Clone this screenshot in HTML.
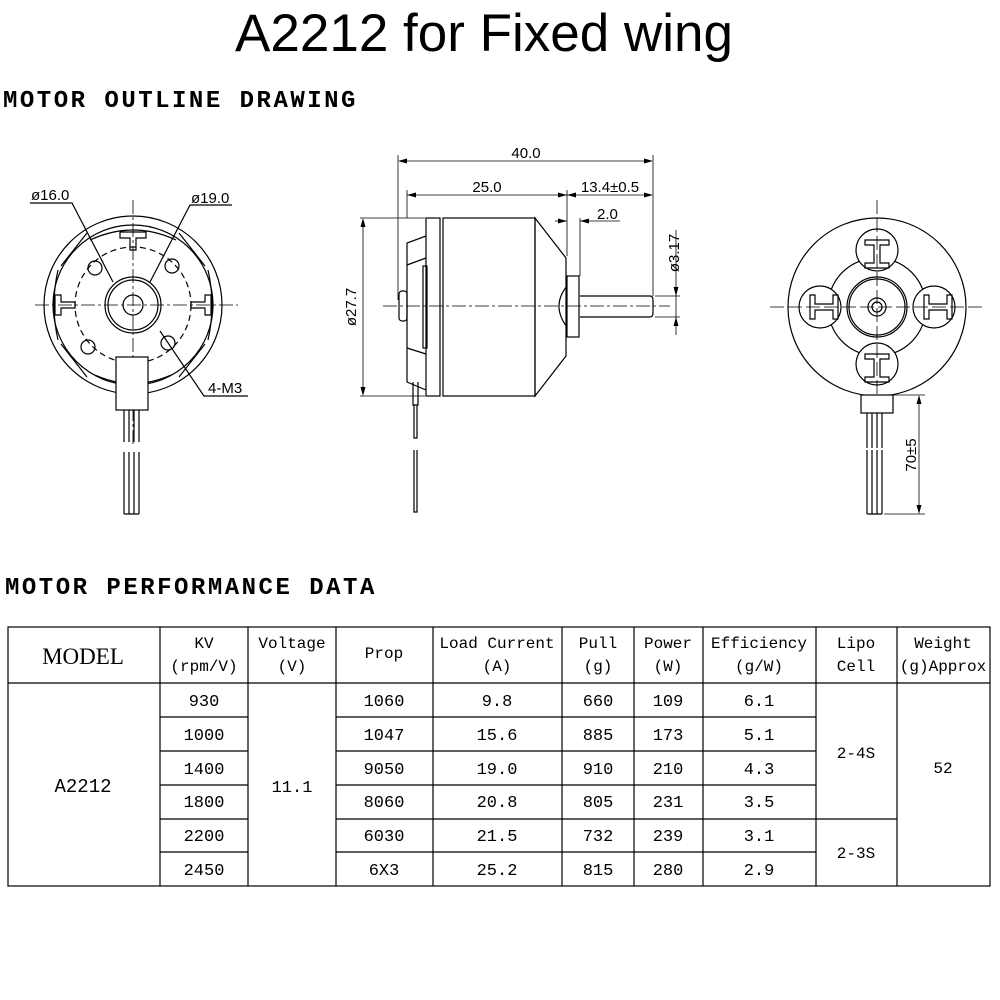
<!DOCTYPE html>
<html><head><meta charset="utf-8"><style>
body{margin:0;background:#fff}
svg{display:block}
.m{font-family:"Liberation Mono",monospace}
.s{font-family:"Liberation Sans",sans-serif}
</style></head><body>
<svg width="1000" height="1000" viewBox="0 0 1000 1000" xmlns="http://www.w3.org/2000/svg">
<rect width="1000" height="1000" fill="#fff"/>
<text x="484" y="51" class="s" font-size="53" text-anchor="middle">A2212 for Fixed wing</text>
<text x="3" y="107" class="m" font-size="24" font-weight="bold" letter-spacing="2.5">MOTOR OUTLINE DRAWING</text>
<text x="5" y="594" class="m" font-size="24" font-weight="bold" letter-spacing="2.5">MOTOR PERFORMANCE DATA</text>

<g fill="none" stroke="#000" stroke-width="1.2">
<!-- LEFT VIEW -->
<circle cx="133" cy="305" r="89"/>
<circle cx="133" cy="305" r="80"/>
<circle cx="133" cy="305" r="58" stroke-dasharray="6 4"/>
<circle cx="133" cy="305" r="28"/>
<circle cx="133" cy="305" r="25"/>
<circle cx="133" cy="305" r="10"/>
<circle cx="95" cy="268" r="7"/><circle cx="172" cy="266" r="7"/>
<circle cx="88" cy="347" r="7"/><circle cx="168" cy="343" r="7"/>
<line x1="133" y1="200" x2="133" y2="445" stroke-dasharray="14 3 3 3" stroke-width="0.8"/>
<line x1="35" y1="305" x2="238" y2="305" stroke-dasharray="14 3 3 3" stroke-width="0.8"/>
<path d="M90 240 Q133 220 176 240 M58 270 Q50 305 58 340 M208 270 Q216 305 208 340 M95 375 Q133 392 171 375"/>
<path d="M120 232 h26 v6 h-10 v12 h-6 v-12 h-10z M55 295 v20 h6 v-7 h14 v-6 h-14 v-7z M211 295 v20 h-6 v-7 h-14 v-6 h14 v-7z"/>
<line x1="87" y1="233" x2="61" y2="266"/><line x1="179" y1="233" x2="205" y2="266"/>
<line x1="61" y1="344" x2="87" y2="377"/><line x1="205" y1="344" x2="179" y2="377"/>
<rect x="116" y="357" width="32" height="53" fill="#fff"/>
<path d="M124 410 v32 M129 410 v32 M134 410 v32 M139 410 v32 M124 452 v62 M129 452 v62 M134 452 v62 M139 452 v62 M124 514 h15"/>
<polyline points="30,203 72,203 113,282"/>
<polyline points="232,205 190,205 150,282"/>
<polyline points="248,396 204,396 160,331"/>
<!-- MIDDLE VIEW -->
<line x1="398" y1="155" x2="398" y2="300" stroke-width="0.8"/>
<line x1="653" y1="155" x2="653" y2="296" stroke-width="0.8"/>
<line x1="402" y1="161" x2="650" y2="161" stroke-width="0.8"/>
<line x1="407" y1="195" x2="567" y2="195" stroke-width="0.8"/>
<line x1="567" y1="195" x2="650" y2="195" stroke-width="0.8"/>
<line x1="407" y1="190" x2="407" y2="218" stroke-width="0.8"/>
<line x1="567" y1="190" x2="567" y2="256" stroke-width="0.8"/>
<line x1="580" y1="218" x2="580" y2="276" stroke-width="0.8"/>
<line x1="555" y1="221" x2="567" y2="221" stroke-width="0.8"/><line x1="580" y1="221" x2="620" y2="221" stroke-width="0.8"/>
<line x1="360" y1="218" x2="425" y2="218" stroke-width="0.8"/>
<line x1="360" y1="396" x2="425" y2="396" stroke-width="0.8"/>
<line x1="363" y1="220" x2="363" y2="394" stroke-width="0.8"/>
<line x1="655" y1="296" x2="680" y2="296" stroke-width="0.8"/>
<line x1="655" y1="317" x2="680" y2="317" stroke-width="0.8"/>
<line x1="676" y1="230" x2="676" y2="335" stroke-width="0.8"/>
<rect x="426" y="218" width="14" height="178"/>
<rect x="443" y="218" width="92" height="178"/>
<path d="M535 218 L566 258 L566 356 L535 396 Z"/>
<rect x="567" y="276" width="12" height="61"/>
<path d="M567 286 Q551 306 567 327"/>
<path d="M580 296 H650 Q653 296 653 300 V313 Q653 317 650 317 H580"/>
<path d="M426 236 L407 243 V382 L426 390 M407 265 L426 258 M407 348 L426 354"/>
<rect x="423" y="266" width="4" height="82"/>
<rect x="399" y="291" width="8" height="30" rx="3"/>
<path d="M413 382 v23 h5 v-23 M414 405 v33 h3 v-33 M414 450 v62 h3 v-62"/>
<line x1="383" y1="306" x2="670" y2="306" stroke-dasharray="14 3 3 3" stroke-width="0.8"/>
<!-- RIGHT VIEW -->
<circle cx="877" cy="307" r="89"/>
<circle cx="877" cy="307" r="49"/>
<circle cx="877" cy="307" r="30"/>
<circle cx="877" cy="307" r="28"/>
<circle cx="877" cy="307" r="9"/><circle cx="877" cy="307" r="5"/>
<g fill="#fff">
<circle cx="877" cy="250" r="21"/><circle cx="877" cy="364" r="21"/>
<circle cx="820" cy="307" r="21"/><circle cx="934" cy="307" r="21"/>
</g>
<path d="M865 240 h24 v5 h-9 v18 h9 v5 h-24 v-5 h9 v-18 h-9z"/>
<path d="M865 354 h24 v5 h-9 v18 h9 v5 h-24 v-5 h9 v-18 h-9z"/>
<path d="M810 295 v24 h5 v-9 h18 v9 h5 v-24 h-5 v9 h-18 v-9z"/>
<path d="M924 295 v24 h5 v-9 h18 v9 h5 v-24 h-5 v9 h-18 v-9z"/>
<line x1="877" y1="200" x2="877" y2="420" stroke-dasharray="14 4" stroke-width="0.8"/>
<line x1="770" y1="307" x2="985" y2="307" stroke-dasharray="14 4" stroke-width="0.8"/>
<rect x="861" y="395" width="32" height="18" fill="#fff"/>
<path d="M867 413 v35 M872 413 v35 M877 413 v35 M882 413 v35 M867 450 v64 M872 450 v64 M877 450 v64 M882 450 v64 M867 514 h15"/>
<line x1="893" y1="395" x2="925" y2="395" stroke-width="0.8"/>
<line x1="884" y1="514" x2="925" y2="514" stroke-width="0.8"/>
<line x1="919" y1="397" x2="919" y2="512" stroke-width="0.8"/>
</g>
<g fill="#000">
<path d="M398 161 l9 -2.5 v5z M653 161 l-9 -2.5 v5z M407 195 l9 -2.5 v5z M567 195 l-9 -2.5 v5z M567 195 l9 -2.5 v5z M653 195 l-9 -2.5 v5z"/>
<path d="M567 221 l-9 -2.5 v5z M580 221 l9 -2.5 v5z M363 218 l-2.5 9 h5z M363 396 l-2.5 -9 h5z"/>
<path d="M676 296 l-2.5 -9 h5z M676 317 l-2.5 9 h5z M919 395 l-2.5 9 h5z M919 514 l-2.5 -9 h5z"/>
</g>
<g class="s" font-size="15" fill="#000">
<text x="31" y="200">ø16.0</text>
<text x="191" y="203">ø19.0</text>
<text x="208" y="393">4-M3</text>
<text x="526" y="158" text-anchor="middle">40.0</text>
<text x="487" y="192" text-anchor="middle">25.0</text>
<text x="610" y="192" text-anchor="middle">13.4±0.5</text>
<text x="597" y="219">2.0</text>
<text transform="translate(356 307) rotate(-90)" text-anchor="middle">ø27.7</text>
<text transform="translate(679 253) rotate(-90)" text-anchor="middle">ø3.17</text>
<text transform="translate(916 455) rotate(-90)" text-anchor="middle">70±5</text>
</g>

<!-- TABLE -->
<g stroke="#000" stroke-width="1.2" fill="none">
<rect x="8" y="627" width="982" height="259"/>
<line x1="8" y1="683" x2="990" y2="683"/>
<path d="M160 627V886 M248 627V886 M336 627V886 M433 627V886 M562 627V886 M634 627V886 M703 627V886 M816 627V886 M897 627V886"/>
<path d="M160 717H248 M160 751H248 M160 785H248 M160 819H248 M160 852H248"/>
<path d="M336 717H816 M336 751H816 M336 785H816 M336 819H897 M336 852H816"/>
</g>
<g class="m" font-size="16" fill="#000" text-anchor="middle">
<text x="83" y="664" font-family="Liberation Serif" font-size="23">MODEL</text>
<text x="204" y="648">KV</text><text x="204" y="671">(rpm/V)</text>
<text x="292" y="648">Voltage</text><text x="292" y="671">(V)</text>
<text x="384" y="658">Prop</text>
<text x="497" y="648">Load Current</text><text x="497" y="671">(A)</text>
<text x="598" y="648">Pull</text><text x="598" y="671">(g)</text>
<text x="668" y="648">Power</text><text x="668" y="671">(W)</text>
<text x="759" y="648">Efficiency</text><text x="759" y="671">(g/W)</text>
<text x="856" y="648">Lipo</text><text x="856" y="671">Cell</text>
<text x="943" y="648">Weight</text><text x="943" y="671">(g)Approx</text>
<text x="83" y="792" font-size="19">A2212</text>
<text x="292" y="792" font-size="17">11.1</text>
<text x="856" y="758">2-4S</text>
<text x="856" y="858">2-3S</text>
<text x="943" y="773">52</text>
<g font-size="17">
<text x="204" y="706">930</text><text x="384" y="706">1060</text><text x="497" y="706">9.8</text><text x="598" y="706">660</text><text x="668" y="706">109</text><text x="759" y="706">6.1</text>
<text x="204" y="740">1000</text><text x="384" y="740">1047</text><text x="497" y="740">15.6</text><text x="598" y="740">885</text><text x="668" y="740">173</text><text x="759" y="740">5.1</text>
<text x="204" y="774">1400</text><text x="384" y="774">9050</text><text x="497" y="774">19.0</text><text x="598" y="774">910</text><text x="668" y="774">210</text><text x="759" y="774">4.3</text>
<text x="204" y="807">1800</text><text x="384" y="807">8060</text><text x="497" y="807">20.8</text><text x="598" y="807">805</text><text x="668" y="807">231</text><text x="759" y="807">3.5</text>
<text x="204" y="841">2200</text><text x="384" y="841">6030</text><text x="497" y="841">21.5</text><text x="598" y="841">732</text><text x="668" y="841">239</text><text x="759" y="841">3.1</text>
<text x="204" y="875">2450</text><text x="384" y="875">6X3</text><text x="497" y="875">25.2</text><text x="598" y="875">815</text><text x="668" y="875">280</text><text x="759" y="875">2.9</text>
</g>
</g>
</svg>
</body></html>
